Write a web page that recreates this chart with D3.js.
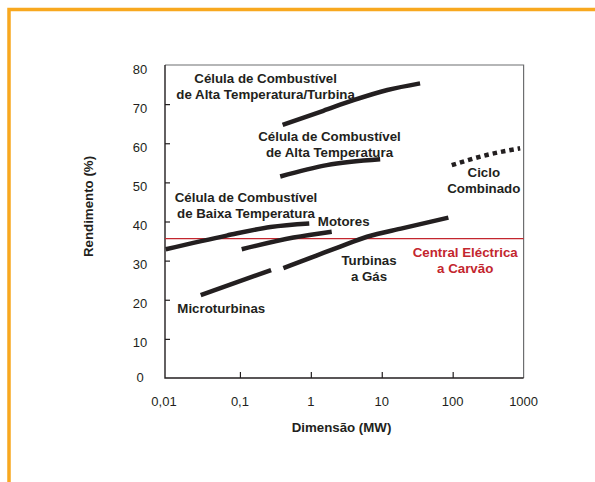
<!DOCTYPE html>
<html>
<head>
<meta charset="utf-8">
<script src="https://cdn.jsdelivr.net/npm/d3@7"></script>
<style>
  body { margin: 0; background: #fff; }
  svg { display: block; font-family: "Liberation Sans", Arial, sans-serif; }
  .lbl { font-size: 13.3px; font-weight: bold; fill: #231f20; }
  .tick-lbl { font-size: 13px; fill: #231f20; }
</style>
</head>
<body>
<svg id="chart" width="595" height="482"></svg>
<script>
// efficiency (%) vs size (MW), log x axis

const xTicks = [0.01, 0.1, 1, 10, 100, 1000];
const xTickLabels = ["0,01", "0,1", "1", "10", "100", "1000"];
const yTicks = [0, 10, 20, 30, 40, 50, 60, 70, 80];

// [MW, %]
const altaTempTurbina = [[0.4, 64.7], [1.5, 68.3], [4, 71.0], [12, 73.6], [34.7, 75.3]];
const altaTemp = [[0.37, 51.5], [1.68, 54.4], [9.5, 55.9]];
const baixaTemp = [[0.009, 32.9], [0.065, 36.4], [0.27, 38.6], [0.95, 39.5]];
const motores = [[0.106, 32.9], [0.57, 35.9], [1.97, 37.4]];
const microturbinas = [[0.028, 21.2], [0.275, 27.6]];
const turbinasGas = [[0.41, 28.1], [1.2, 31.3], [2.6, 33.6], [6.2, 36.1], [20, 38.3], [87, 41]];
const cicloCombinado = [[97, 54.4], [302, 57.0], [894, 58.7]];
const carvao = 35.6;

const w = 595;
const h = 482;
const plotLeft = 165;
const orange = "#f8a81f";
const red = "#c3262e";
const ink = "#231f20";

const svg = d3.select("#chart");

// orange frame
svg.append("path")
    .attr("d", `M9,${h} V9.5 H${w}`)
    .attr("fill", "none")
    .attr("stroke", orange)
    .attr("stroke-width", 3.5);

// SCALES
const xScale = d3.scaleLog()
    .domain([0.01, 1000])
    .range([169, 523.6]);

const yScale = d3.scaleLinear()
    .domain([0, 80])
    .range([378, 65]);

const plotTop = yScale(80), plotBottom = yScale(0), plotRight = xScale(1000);

// grey top/right border
svg.append("path")
    .attr("d", `M${plotLeft},${plotTop} H${plotRight} V${plotBottom}`)
    .attr("fill", "none")
    .attr("stroke", "#6d6e70")
    .attr("stroke-width", 1.2);

// AXES
const xAxis = d3.axisBottom(xScale)
    .tickValues(xTicks.slice(1, 5))
    .tickSize(-6)
    .tickFormat("");

const yAxis = d3.axisLeft(yScale)
    .tickValues(yTicks.slice(1, 8))
    .tickSize(-5)
    .tickFormat("");

const gx = svg.append("g")
    .attr("transform", `translate(0,${plotBottom})`)
    .call(xAxis);
gx.select(".domain").remove();
gx.selectAll(".tick line").attr("stroke", ink).attr("stroke-width", 1.2);

const gy = svg.append("g")
    .attr("transform", `translate(${plotLeft},0)`)
    .call(yAxis);
gy.select(".domain").remove();
gy.selectAll(".tick line").attr("stroke", ink).attr("stroke-width", 1.2);

// black left/bottom axis lines
svg.append("path")
    .attr("d", `M${plotLeft},${plotTop} V${plotBottom} H${plotRight}`)
    .attr("fill", "none")
    .attr("stroke", ink)
    .attr("stroke-width", 1.4);

// tick labels
svg.selectAll(".xlbl")
    .data(xTicks)
    .join("text")
    .attr("class", "tick-lbl")
    .attr("x", (d, i) => xScale(d) - (i === 0 ? 5 : 0))
    .attr("y", 406)
    .attr("text-anchor", "middle")
    .text((d, i) => xTickLabels[i]);

svg.selectAll(".ylbl")
    .data(yTicks)
    .join("text")
    .attr("class", "tick-lbl")
    .attr("x", 140)
    .attr("y", d => yScale(d) + (d === 0 ? 3.7 : 8.5))
    .attr("text-anchor", "middle")
    .text(d => d);

// axis titles
svg.append("text")
    .attr("class", "lbl")
    .attr("x", 341.5)
    .attr("y", 431.5)
    .attr("text-anchor", "middle")
    .text("Dimensão (MW)");

svg.append("text")
    .attr("class", "lbl")
    .attr("transform", "translate(93,206.5) rotate(-90)")
    .attr("text-anchor", "middle")
    .text("Rendimento (%)");

// coal plant reference line
svg.append("line")
    .attr("x1", plotLeft)
    .attr("x2", plotRight)
    .attr("y1", yScale(carvao))
    .attr("y2", yScale(carvao))
    .attr("stroke", red)
    .attr("stroke-width", 1.2);

// CURVES
const line = d3.line()
    .x(d => xScale(d[0]))
    .y(d => yScale(d[1]))
    .curve(d3.curveMonotoneX);

const solid = [altaTempTurbina, altaTemp, baixaTemp, motores, microturbinas, turbinasGas];

svg.selectAll(".curve")
    .data(solid)
    .join("path")
    .attr("class", "curve")
    .attr("d", line)
    .attr("fill", "none")
    .attr("stroke", ink)
    .attr("stroke-width", 4.5);

svg.append("path")
    .datum(cicloCombinado)
    .attr("d", line)
    .attr("fill", "none")
    .attr("stroke", ink)
    .attr("stroke-width", 4.5)
    .style("stroke-dasharray", "4.5, 4");

// LABELS
const labels = [
    {lines: ["Célula de Combustível", "de Alta Temperatura/Turbina"], x: 265.6, y: 83.3},
    {lines: ["Célula de Combustível", "de Alta Temperatura"], x: 329.5, y: 140.7},
    {lines: ["Célula de Combustível", "de Baixa Temperatura"], x: 246, y: 202.3},
    {lines: ["Motores"], x: 343.7, y: 225.5},
    {lines: ["Ciclo", "Combinado"], x: 483.8, y: 177},
    {lines: ["Turbinas", "a Gás"], x: 369, y: 265},
    {lines: ["Microturbinas"], x: 221.3, y: 312.7},
    {lines: ["Central Eléctrica", "a Carvão"], x: 465.2, y: 257, color: red}
];

labels.forEach(l => {
    const t = svg.append("text")
        .attr("class", "lbl")
        .attr("text-anchor", "middle")
        .style("fill", l.color || ink);
    l.lines.forEach((s, i) => {
        t.append("tspan")
            .attr("x", l.x)
            .attr("y", l.y + i * 16)
            .text(s);
    });
});
</script>
</body>
</html>
